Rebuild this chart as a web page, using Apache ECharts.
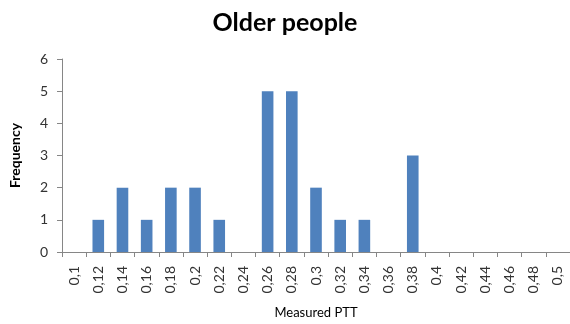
<!DOCTYPE html>
<html>
<head>
<meta charset="utf-8">
<script src="https://cdn.jsdelivr.net/npm/echarts@6/dist/echarts.min.js"></script>
<style>
  html, body { margin: 0; padding: 0; background: #fff; }
  #chart { width: 570px; height: 324px; }
</style>
</head>
<body>
<div id="chart"></div>
<script>
var categories = ['0,1', '0,12', '0,14', '0,16', '0,18', '0,2', '0,22', '0,24', '0,26', '0,28', '0,3',
    '0,32', '0,34', '0,36', '0,38', '0,4', '0,42', '0,44', '0,46', '0,48', '0,5'];
var frequency = [0, 1, 2, 1, 2, 2, 1, 0, 5, 5, 2, 1, 1, 0, 3, 0, 0, 0, 0, 0, 0];

var font = 'Lato, "Open Sans", sans-serif';
var myChart = echarts.init(document.getElementById('chart'));
myChart.setOption({
    animation: false,
    title: {
        text: 'Older people',
        left: 'center',
        top: 5,
        textStyle: { fontFamily: font, fontSize: 25, fontWeight: 'bold', color: '#000' }
    },
    grid: { left: 60, right: -2, top: 59, bottom: 72 },
    xAxis: {
        type: 'category',
        data: categories,
        name: 'Measured PTT',
        nameLocation: 'middle',
        nameGap: 54,
        nameTextStyle: { fontFamily: font, fontSize: 13, color: '#000' },
        axisLine: { lineStyle: { color: '#868686' } },
        axisTick: { show: true, alignWithLabel: false, length: 5, lineStyle: { color: '#868686' } },
        axisLabel: { rotate: 90, interval: 0, fontFamily: font, fontSize: 14, color: '#333', margin: 14 }
    },
    yAxis: {
        type: 'value',
        min: 0,
        max: 6,
        interval: 1,
        name: 'Frequency',
        nameLocation: 'middle',
        nameGap: 40,
        nameTextStyle: { fontFamily: font, fontSize: 14, fontWeight: 'bold', color: '#000' },
        splitLine: { show: false },
        axisLine: { show: true, lineStyle: { color: '#868686' } },
        axisTick: { show: true, length: 5, lineStyle: { color: '#868686' } },
        axisLabel: { fontFamily: font, fontSize: 14, color: '#333', margin: 14 }
    },
    series: [{
        type: 'bar',
        data: frequency,
        barWidth: '48%',
        itemStyle: { color: '#4F81BD' }
    }]
});
</script>
</body>
</html>
